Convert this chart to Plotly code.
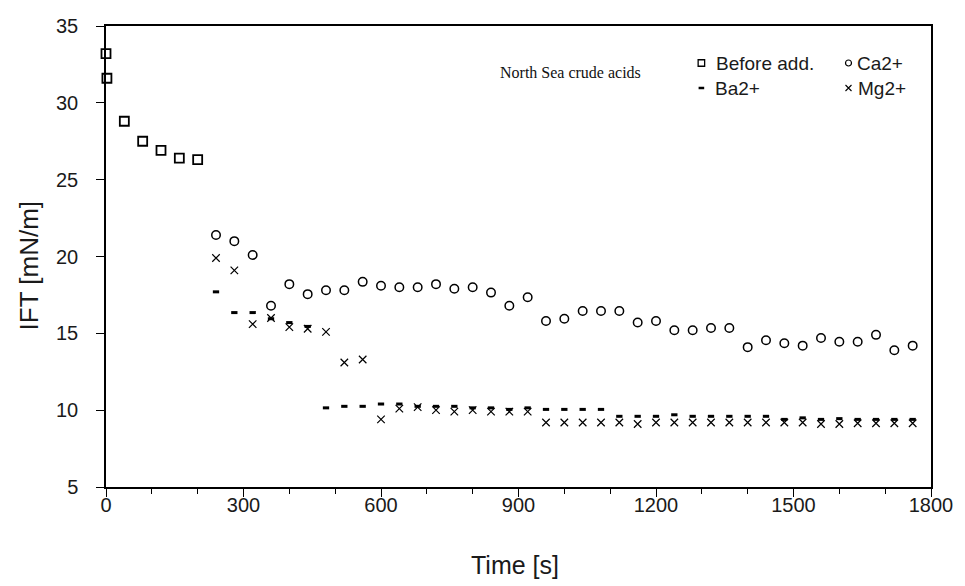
import plotly.graph_objects as go

# Interfacial tension of North Sea crude acids, before and after adding divalent cations
time_before = [0, 2, 40, 80, 120, 160, 200]
ift_before = [33.2, 31.6, 28.8, 27.5, 26.9, 26.4, 26.3]

time_ions = [240, 280, 320, 360, 400, 440, 480, 520, 560, 600, 640, 680, 720,
             760, 800, 840, 880, 920, 960, 1000, 1040, 1080, 1120, 1160, 1200,
             1240, 1280, 1320, 1360, 1400, 1440, 1480, 1520, 1560, 1600, 1640,
             1680, 1720, 1760]

ift_ca = [21.4, 21.0, 20.1, 16.8, 18.2, 17.55, 17.8, 17.8, 18.35, 18.1, 18.0, 18.0, 18.2,
          17.9, 18.0, 17.65, 16.8, 17.35, 15.8, 15.95, 16.45, 16.45, 16.45, 15.7, 15.8,
          15.2, 15.2, 15.35, 15.35, 14.1, 14.55, 14.35, 14.2, 14.7, 14.45, 14.45,
          14.9, 13.9, 14.2]

ift_ba = [17.7, 16.35, 16.35, 15.95, 15.7, 15.45, 10.15, 10.25, 10.25, 10.4, 10.4, 10.25, 10.25,
          10.25, 10.15, 10.15, 10.05, 10.15, 10.05, 10.05, 10.05, 10.05, 9.6, 9.6, 9.6,
          9.7, 9.6, 9.6, 9.6, 9.6, 9.6, 9.4, 9.5, 9.4, 9.45, 9.4,
          9.4, 9.4, 9.4]

ift_mg = [19.9, 19.1, 15.6, 16.0, 15.4, 15.3, 15.1, 13.1, 13.3, 9.4, 10.1, 10.2, 10.0,
          9.9, 10.0, 9.9, 9.9, 9.9, 9.2, 9.2, 9.2, 9.2, 9.2, 9.1, 9.2,
          9.2, 9.2, 9.2, 9.2, 9.2, 9.2, 9.2, 9.2, 9.1, 9.1, 9.15,
          9.15, 9.15, 9.15]

x_ticks = [0, 300, 600, 900, 1200, 1500, 1800]
y_ticks = [5, 10, 15, 20, 25, 30, 35]

W, H = 965, 586
L, R, T, B = 106, 29, 26, 99
PW, PH = W - L - R, H - T - B

SANS = "Liberation Sans, Arial, sans-serif"
TICK_FONT = dict(family=SANS, size=20, color="#1a1a1a")
TITLE_FONT = dict(family=SANS, size=25, color="#1a1a1a")
LEG_FONT = dict(family=SANS, size=19, color="#1a1a1a")

fig = go.Figure()

fig.add_trace(go.Scatter(
    x=time_before, y=ift_before, mode="markers", name="Before add.", cliponaxis=False,
    marker=dict(symbol="square-open", size=9, color="black", line=dict(width=1.8, color="black"))))
fig.add_trace(go.Scatter(
    x=time_ions, y=ift_ca, mode="markers", name="Ca2+", cliponaxis=False,
    marker=dict(symbol="circle-open", size=8.5, color="black", line=dict(width=1.5, color="black"))))
fig.add_trace(go.Scatter(
    x=time_ions, y=ift_ba, mode="markers", name="Ba2+", cliponaxis=False,
    marker=dict(symbol="line-ew-open", size=4.5, color="black", line=dict(width=3, color="black"))))
fig.add_trace(go.Scatter(
    x=time_ions, y=ift_mg, mode="markers", name="Mg2+", cliponaxis=False,
    marker=dict(symbol="x-thin-open", size=7.5, color="black", line=dict(width=1.2, color="black"))))


def px_x(p):
    return (p - L) / PW


def px_y(p):
    return (H - B - p) / PH


# Key drawn on an overlay axis measured in pixels, two entries per row
legend_items = [
    ("Before add.", "square-open", 6.5, 1.3, 705, 718, 63),
    ("Ca2+", "circle-open", 6, 1.2, 853, 860, 63),
    ("Ba2+", "line-ew-open", 4, 2.5, 705, 717, 88),
    ("Mg2+", "x-thin-open", 6, 1.1, 853, 861, 88),
]
for label, sym, size, lw, mx, tx, my in legend_items:
    fig.add_trace(go.Scatter(
        x=[mx], y=[my], xaxis="x2", yaxis="y2", mode="markers", showlegend=False,
        hoverinfo="skip", cliponaxis=False,
        marker=dict(symbol=sym, size=size, color="black", line=dict(width=lw, color="black"))))
    fig.add_annotation(x=px_x(tx), y=px_y(my), xref="paper", yref="paper",
                       text=label, showarrow=False, xanchor="left", yanchor="middle",
                       font=LEG_FONT)

fig.add_annotation(x=px_x(573), y=px_y(73), xref="paper", yref="paper",
                   text="North Sea crude acids", showarrow=False,
                   xanchor="center", yanchor="middle",
                   font=dict(family="Liberation Serif, Times New Roman, serif", size=16, color="#111111"))

fig.add_annotation(x=px_x(517), y=px_y(565), xref="paper", yref="paper",
                   text="Time [s]", showarrow=False, xanchor="center", yanchor="middle",
                   font=TITLE_FONT)
fig.add_annotation(x=px_x(29), y=px_y(265), xref="paper", yref="paper",
                   text="IFT [mN/m]", showarrow=False, xanchor="center", yanchor="middle",
                   textangle=-90, font=dict(family=SANS, size=26, color="#1a1a1a"))

fig.update_layout(
    width=W, height=H,
    margin=dict(l=L, r=R, t=T, b=B, pad=0),
    paper_bgcolor="white", plot_bgcolor="white",
    showlegend=False,
    xaxis=dict(range=[0, 1800], tickvals=x_ticks, ticktext=[str(v) for v in x_ticks],
               ticks="outside", ticklen=8, tickwidth=1.3, tickcolor="black",
               minor=dict(dtick=100, tick0=0, ticks="outside", ticklen=5, tickwidth=1.3, tickcolor="black"),
               showline=True, linecolor="black", linewidth=1.5, mirror=True,
               showgrid=False, zeroline=False, tickfont=TICK_FONT, ticklabelstandoff=-9),
    yaxis=dict(range=[5, 35], tickvals=y_ticks, ticktext=[str(v) for v in y_ticks],
               ticks="outside", ticklen=8, tickwidth=1.3, tickcolor="black",
               showline=True, linecolor="black", linewidth=1.5, mirror=True,
               showgrid=False, zeroline=False, tickfont=TICK_FONT, ticklabelstandoff=14),
    xaxis2=dict(range=[L, W - R], overlaying="x", visible=False, fixedrange=True),
    yaxis2=dict(range=[H - B, T], overlaying="y", visible=False, fixedrange=True),
)

fig.write_html("out.html")
